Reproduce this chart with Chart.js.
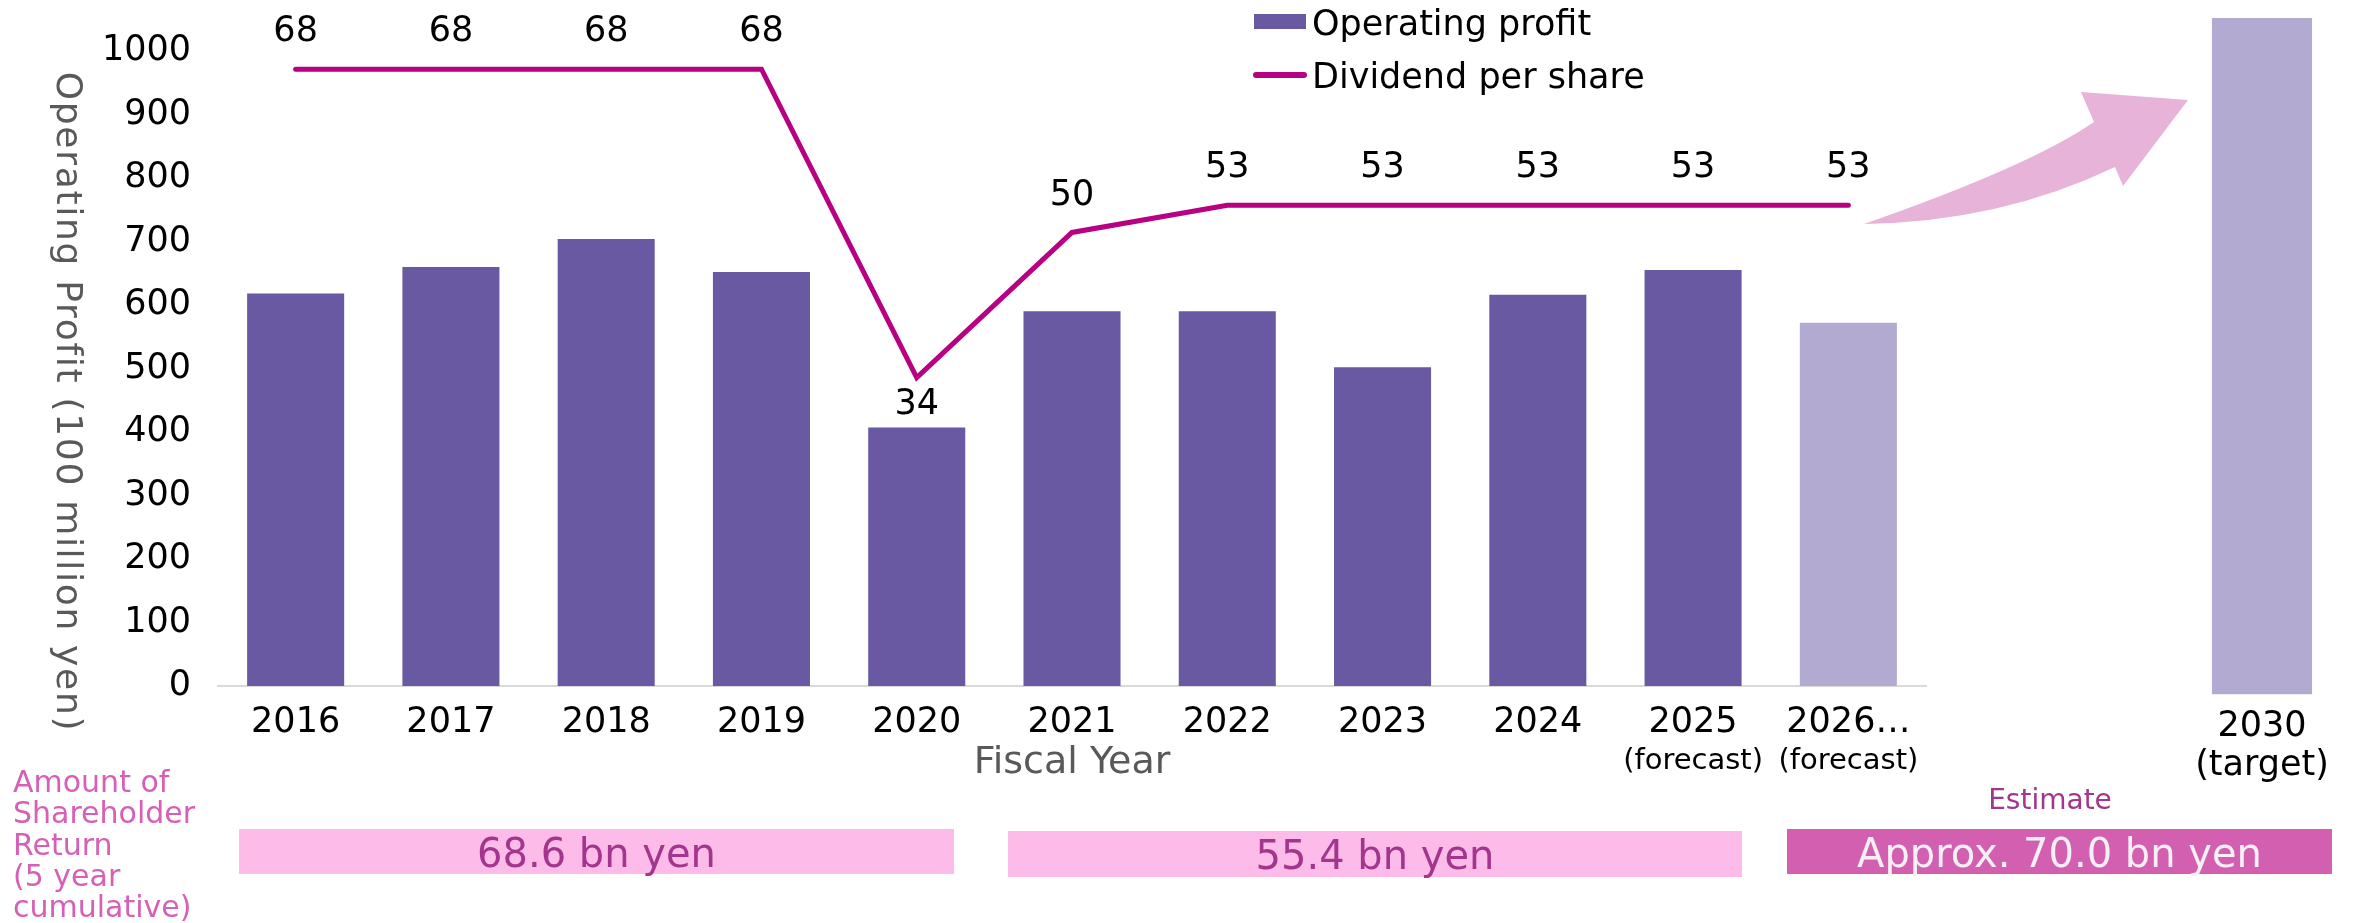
<!DOCTYPE html>
<html>
<head>
<meta charset="utf-8">
<script src="https://cdn.jsdelivr.net/npm/chart.js@4.4.1/dist/chart.umd.min.js"></script>
<style>
html,body{margin:0;padding:0;background:#fff;}
#wrap{position:relative;width:2358px;height:923px;overflow:hidden;}
#main{position:absolute;left:0;top:0;}
#target{position:absolute;left:2150px;top:0;}
</style>
</head>
<body>
<div id="wrap">
<canvas id="main" width="2358" height="923"></canvas>
<canvas id="target" width="208" height="923"></canvas>
</div>
<script>
// ---------- data ----------
const categories = ['2016','2017','2018','2019','2020','2021','2022','2023','2024','2025','2026…'];
const subLabels = ['','','','','','','','','','(forecast)','(forecast)'];
const operatingProfit = [618, 660, 704, 652, 407, 590, 590, 502, 616, 655, 572];
const dividendPerShare = [68, 68, 68, 68, 34, 50, 53, 53, 53, 53, 53];
const targetLabel = ['2030', '(target)'];
const targetProfit = [1070];
const seriesNames = ['Operating profit', 'Dividend per share'];
const axisTitles = ['Operating Profit (100 million yen)', 'Fiscal Year'];
const returnTitle = ['Amount of', 'Shareholder', 'Return', '(5 year', 'cumulative)'];
const returnLabels = ['68.6 bn yen', '55.4 bn yen', 'Approx. 70.0 bn yen'];
const estimateLabel = 'Estimate';

// ---------- styles ----------
const FONT = '"DejaVu Sans", sans-serif';
const PURPLE = '#6959A3';
const LIGHT_PURPLE = '#B3AAD1';
const MAGENTA = '#B80082';
const ARROW = '#E7B3D9';
const PINK_BAND = '#FDBBE9';
const PINK_BAND_DARK = '#D35FB0';
const PINK_TEXT = '#D660B5';
const PLUM_TEXT = '#A3358D';
const GREY = '#595959';

Chart.defaults.font.family = FONT;
Chart.defaults.color = '#000';

const lastIdx = categories.length - 1;

const decor = {
  id: 'decor',
  afterDraw(chart) {
    const ctx = chart.ctx;
    const xs = chart.scales.x;
    const ca = chart.chartArea;
    const lineMeta = chart.getDatasetMeta(0);
    ctx.save();

    // arrow
    ctx.fillStyle = ARROW;
    ctx.beginPath();
    ctx.moveTo(1864, 224);
    ctx.quadraticCurveTo(2030, 166, 2094, 122);
    ctx.lineTo(2081, 92);
    ctx.lineTo(2188, 100);
    ctx.lineTo(2123, 186);
    ctx.lineTo(2115, 167);
    ctx.quadraticCurveTo(2000, 222, 1864, 224);
    ctx.closePath();
    ctx.fill();

    // dividend value labels
    ctx.font = '35px ' + FONT;
    ctx.fillStyle = '#000';
    ctx.textAlign = 'center';
    ctx.textBaseline = 'middle';
    lineMeta.data.forEach((pt, i) => {
      const v = dividendPerShare[i];
      const prev = dividendPerShare[i - 1], next = dividendPerShare[i + 1];
      const dip = prev !== undefined && next !== undefined && v < prev && v < next;
      ctx.fillText(String(v), pt.x, dip ? pt.y + 27 : pt.y - 37);
    });

    // sub labels under ticks
    ctx.font = '29px ' + FONT;
    subLabels.forEach((s, i) => {
      if (s) ctx.fillText(s, xs.getPixelForValue(i), ca.bottom + 75);
    });

    // y axis title (reads top to bottom)
    ctx.save();
    ctx.translate(66, 402);
    ctx.rotate(Math.PI / 2);
    ctx.fillStyle = GREY;
    ctx.font = '36px ' + FONT;
    try { ctx.letterSpacing = '1.7px'; } catch (e) {}
    ctx.fillText(axisTitles[0], 0, 0);
    ctx.restore();

    // legend
    ctx.textAlign = 'left';
    ctx.textBaseline = 'alphabetic';
    ctx.font = '35px ' + FONT;
    ctx.fillStyle = PURPLE;
    ctx.fillRect(1254, 14, 52, 15);
    ctx.fillStyle = '#000';
    ctx.fillText(chart.data.datasets[1].label, 1312, 35);
    ctx.strokeStyle = MAGENTA;
    ctx.lineWidth = 6;
    ctx.lineCap = 'round';
    ctx.beginPath();
    ctx.moveTo(1256, 75);
    ctx.lineTo(1304, 75);
    ctx.stroke();
    ctx.fillText(chart.data.datasets[0].label, 1312, 88);

    // shareholder return title
    ctx.font = '30px ' + FONT;
    ctx.fillStyle = PINK_TEXT;
    returnTitle.forEach((t, i) => ctx.fillText(t, 13, 792 + i * 31.3));

    // bands
    const bands = [
      {x0: 239, x1: 954, y0: 829, y1: 874, fill: PINK_BAND, color: PLUM_TEXT},
      {x0: 1008, x1: 1742, y0: 831, y1: 877, fill: PINK_BAND, color: PLUM_TEXT},
      {x0: 1787, x1: 2332, y0: 829, y1: 874, fill: PINK_BAND_DARK, color: '#F4F0F4'}
    ];
    ctx.textAlign = 'center';
    ctx.textBaseline = 'middle';
    ctx.font = '40px ' + FONT;
    bands.forEach((b, i) => {
      ctx.fillStyle = b.fill;
      ctx.fillRect(b.x0, b.y0, b.x1 - b.x0, b.y1 - b.y0);
      ctx.fillStyle = b.color;
      ctx.fillText(returnLabels[i], (b.x0 + b.x1) / 2, (b.y0 + b.y1) / 2 + 5);
    });

    // estimate
    ctx.font = '28px ' + FONT;
    ctx.fillStyle = PLUM_TEXT;
    ctx.fillText(estimateLabel, 2050, 802);

    ctx.restore();
  }
};

new Chart(document.getElementById('main'), {
  data: {
    labels: categories,
    datasets: [
      {
        type: 'line',
        label: seriesNames[1],
        data: dividendPerShare,
        yAxisID: 'y1',
        borderColor: MAGENTA,
        backgroundColor: MAGENTA,
        borderWidth: 5,
        pointRadius: 0,
        borderCapStyle: 'round',
        borderJoinStyle: 'miter',
        tension: 0,
        order: 0
      },
      {
        type: 'bar',
        label: seriesNames[0],
        data: operatingProfit,
        yAxisID: 'y',
        backgroundColor: (c) => c.dataIndex === lastIdx ? LIGHT_PURPLE : PURPLE,
        barPercentage: 0.625,
        categoryPercentage: 1,
        order: 1
      }
    ]
  },
  options: {
    responsive: false,
    animation: false,
    devicePixelRatio: 1,
    layout: {padding: {top: 51, right: 432, bottom: 141, left: 0}},
    plugins: {legend: {display: false}, tooltip: {enabled: false}},
    scales: {
      x: {
        grid: {display: false, drawTicks: false},
        border: {display: true, color: '#D9D9D9', width: 2},
        ticks: {font: {size: 35}, padding: 16, color: '#000', maxRotation: 0, autoSkip: false},
        title: {display: true, text: axisTitles[1], color: GREY, font: {size: 38, lineHeight: 1.0}, padding: {top: -16, bottom: 0}}
      },
      y: {
        min: 0, max: 1000,
        ticks: {stepSize: 100, font: {size: 35}, padding: 27, color: '#000', callback: (v) => String(v)},
        grid: {display: false, drawTicks: false},
        border: {display: false},
        afterFit(s) { s.width = 218; }
      },
      y1: {display: false, position: 'right', min: 0, max: 70}
    }
  },
  plugins: [decor]
});

new Chart(document.getElementById('target'), {
  type: 'bar',
  data: {
    labels: [targetLabel],
    datasets: [{
      label: seriesNames[0],
      data: targetProfit,
      backgroundColor: LIGHT_PURPLE,
      barPercentage: 0.65,
      categoryPercentage: 1
    }]
  },
  options: {
    responsive: false,
    animation: false,
    devicePixelRatio: 1,
    layout: {padding: {top: 18, left: 35, right: 19, bottom: 124}},
    plugins: {legend: {display: false}, tooltip: {enabled: false}},
    scales: {
      x: {
        grid: {display: false, drawTicks: false},
        border: {display: false},
        ticks: {font: {size: 35, lineHeight: 1.12}, padding: 13, color: '#000', maxRotation: 0, autoSkip: false}
      },
      y: {display: false, min: 0, max: 1070}
    }
  }
});
</script>
</body>
</html>
